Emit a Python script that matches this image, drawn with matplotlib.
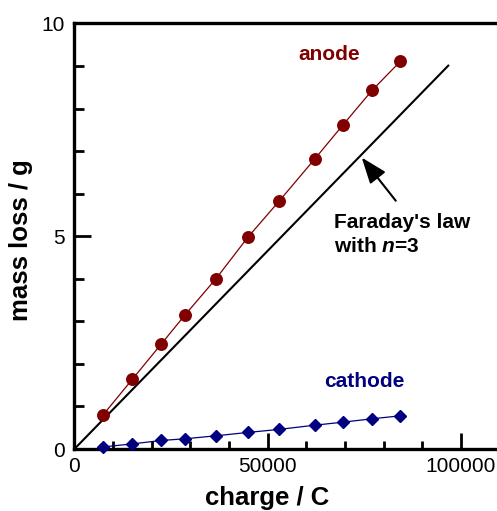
import matplotlib
matplotlib.use("Agg")
import matplotlib.pyplot as plt
from matplotlib.ticker import MultipleLocator

plt.rcParams['font.family'] = ['Liberation Sans', 'DejaVu Sans']
plt.rcParams['mathtext.fontset'] = 'custom'
plt.rcParams['mathtext.it'] = 'Liberation Sans:bold:italic'
plt.rcParams['mathtext.rm'] = 'Liberation Sans:bold'

charge = [7500, 15000, 22400, 28600, 36600, 44900, 52900, 62200, 69400, 77000, 84300]
anode = [0.81, 1.64, 2.46, 3.15, 4.00, 4.98, 5.82, 6.82, 7.61, 8.43, 9.11]
cathode = [0.05, 0.12, 0.20, 0.24, 0.31, 0.39, 0.46, 0.56, 0.63, 0.71, 0.78]
faraday_charge = [0, 96700]
faraday_mass = [0, 9.01]

x_ticks = [0, 50000, 100000]
y_ticks = [0, 5, 10]

anode_color = '#800000'
cathode_color = '#000080'

fig = plt.figure(figsize=(4.97, 5.11), dpi=100)
ax = fig.add_axes([74.4 / 497, 1 - 449 / 511, 1 - 74.4 / 497, (449 - 23.5) / 511])

ax.plot(faraday_charge, faraday_mass, color='black', lw=1.5, zorder=2)
ax.plot(charge, anode, color=anode_color, lw=0.9, marker='o', ms=8.3,
        mfc=anode_color, mec=anode_color, zorder=3, clip_on=False)
ax.plot(charge, cathode, color=cathode_color, lw=0.9, marker='D', ms=6.5,
        mfc=cathode_color, mec=cathode_color, zorder=3, clip_on=False)

ax.set_xlim(0, 109300)
ax.set_ylim(0, 10)
ax.set_xticks(x_ticks)
ax.set_yticks(y_ticks)
ax.set_xticklabels([str(v) for v in x_ticks])
ax.set_yticklabels([str(v) for v in y_ticks])
ax.xaxis.set_minor_locator(MultipleLocator(10000))
ax.yaxis.set_minor_locator(MultipleLocator(1))

ax.tick_params(which='both', direction='in', width=2, top=False, right=False,
               labelsize=15)
ax.tick_params(axis='x', which='major', length=11.5, pad=6)
ax.tick_params(axis='x', which='minor', length=5.8)
ax.tick_params(axis='y', which='major', length=12.5, pad=7)
ax.tick_params(axis='y', which='minor', length=7.2)

for s in ['left', 'bottom', 'top']:
    ax.spines[s].set_linewidth(2.4)
ax.spines['right'].set_visible(False)

ax.set_xlabel('charge / C', fontsize=18.5, fontweight='bold')
ax.set_ylabel('mass loss / g', fontsize=18.5, fontweight='bold')
ax.xaxis.set_label_coords((267.5 - 74.4) / (497 - 74.4), -0.088)
ax.yaxis.set_label_coords(-0.098, 0.49)

ax.text(65860, 9.27, 'anode', color=anode_color, fontsize=15, fontweight='bold',
        ha='center', va='center')
ax.text(74960, 1.58, 'cathode', color=cathode_color, fontsize=15, fontweight='bold',
        ha='center', va='center')
ax.text(67150, 5.2, "Faraday's law", fontsize=15, fontweight='bold',
        ha='left', va='baseline')
ax.text(67150, 4.635, "with $n$=3", fontsize=15, fontweight='bold',
        ha='left', va='baseline')

ax.annotate('', xy=(74310, 6.85), xytext=(83110, 5.835),
            arrowprops=dict(arrowstyle='-|>,head_length=0.8,head_width=0.3',
                            mutation_scale=20, color='black', lw=1.5,
                            shrinkA=0, shrinkB=0))

fig.savefig('out.png', dpi=100)
